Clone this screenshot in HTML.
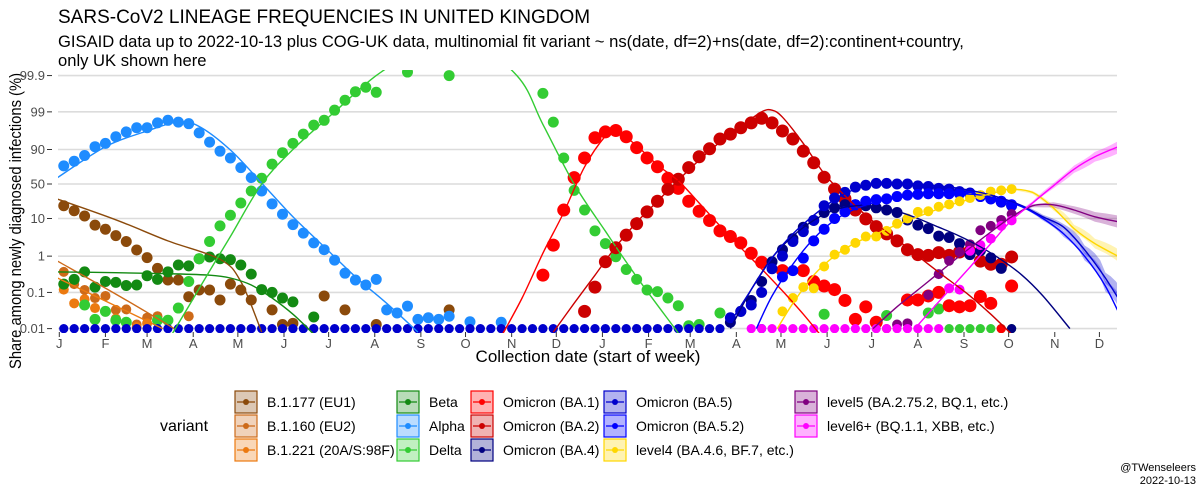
<!DOCTYPE html>
<html><head><meta charset="utf-8"><style>
body{margin:0;background:#fff;}
svg{display:block;font-family:"Liberation Sans",Arial,sans-serif;}
</style></head><body>
<svg id="chart" width="1200" height="500" viewBox="0 0 1200 500" xmlns="http://www.w3.org/2000/svg">
<rect width="1200" height="500" fill="#fff"/>
<text x="58" y="23" font-size="19" fill="#000">SARS-CoV2 LINEAGE FREQUENCIES IN UNITED KINGDOM</text>
<text x="58" y="47" font-size="16.6" fill="#000">GISAID data up to 2022-10-13 plus COG-UK data, multinomial fit variant ~ ns(date, df=2)+ns(date, df=2):continent+country,</text>
<text x="58" y="66" font-size="16.6" fill="#000">only UK shown here</text>
<text transform="translate(21,221) rotate(-90)" text-anchor="middle" font-size="16.5" textLength="296" lengthAdjust="spacingAndGlyphs" fill="#000">Share among newly diagnosed infections (%)</text>
<text x="588" y="362" text-anchor="middle" font-size="17" fill="#000">Collection date (start of week)</text>
<defs><clipPath id="pclip"><rect x="58" y="70" width="1059" height="263"/></clipPath></defs>
<g id="grid"></g><g id="axes"></g>
<g id="plot" clip-path="url(#pclip)"></g>
<g id="legend"></g>
<text x="1196" y="471" text-anchor="end" font-size="11" fill="#000">@TWenseleers</text>
<text x="1196" y="484" text-anchor="end" font-size="11" fill="#000">2022-10-13</text>
</svg>
<script>
const yTicks=[0.01,0.1,1,10,50,90,99,99.9];
const yTickLabels=["0.01","0.1","1","10","50","90","99","99.9"];
const monthLabels=["J","F","M","A","M","J","J","A","S","O","N","D","J","F","M","A","M","J","J","A","S","O","N","D"];
const monthDays=[0,31,59,90,120,151,181,212,243,273,304,334,365,396,424,455,485,516,546,577,608,638,669,699];

const alphaObs=[76,81,86,91.5,93,95.3,96.5,97.3,97.3,98,98.3,98.1,97.9,96.3,93.5,89,84,74,60,39,22,12.7,7,4.2,2.3,1.5,0.78,0.34,0.22,0.16,0.23,0.033,0.027,0.042,0.018,0.02,0.018,0.022,null,0.0155,null,null,0.015];
const alphaFitW=[-0.6,4,8,11,13,16,19,22,25,28,31,34];
const alphaFitV=[60,91.5,96.7,98.1,97.5,89.7,51.5,11,1.8,0.27,0.05,0.008];

const b1177Obs=[20,15.4,11.5,6.8,5.3,3.6,2.5,1.47,0.91,0.46,0.22,0.22,0.076,0.117,0.117,0.062,0.17,0.117,0.062,null,0.033,0.013,0.014,null,null,0.08,null,0.033,null,null,0.013,null,null,null,null,null,null,0.033];
const b1177FitW=[-0.6,5,10,15,17,19];
const b1177FitV=[27.7,9.3,2.6,0.82,0.2,0.008];

const b1160Obs=[0.37,0.17,0.117,0.07,0.08,0.033,0.034,0.013,0.02,0.022,null,null,0.022];
const b1160FitW=[-0.6,5,10.6];
const b1160FitV=[0.73,0.09,0.01];

const b1221Obs=[0.12,0.05,0.065,0.037,null,0.019,null,0.011,0.014];
const b1221FitW=[-0.6,4,9.5];
const b1221FitV=[0.25,0.058,0.01];

const betaObs=[0.17,0.23,0.37,0.14,0.2,0.19,0.155,0.16,0.29,0.23,0.37,0.57,0.54,0.85,0.95,0.85,0.8,0.57,0.32,0.12,0.1,0.07,0.055,null,0.021];
const betaFitW=[-0.6,5,10,14,16,18,20,22,24];
const betaFitV=[0.37,0.35,0.33,0.3,0.25,0.16,0.07,0.025,0.007];

const deltaObs=[0.045,0.018,0.03,0.017,0.015,null,null,0.017,0.017,0.037,0.2,0.85,2.5,6.5,12,23,39,59,78,88,93,96,97.7,98.3,99.1,99.52,99.72,99.79,99.71,null,null,99.92,null,null,null,99.9,null,null,null,null,null,null,null,null,99.69,98.1,84,40,16,4.8,2.2,0.96,0.43,0.23,0.117,0.105,0.07,0.043,0.012,0.013,null,0.027,null,null,null,null,null,null,null,null,null,0.025,null,null,null,null,null,0.023,null,null,null,0.027,0.035,0,0,0,0,0,0,0];
const deltaFitW=[10,12,14,16,19,22,26,30,34,38,43.5,46,49,52,55,59];
const deltaFitV=[0.0045,0.042,0.39,3.4,50,90,99,99.9,99.98,99.993,99.9,97.8,50,4.7,0.27,0.0075];

const ba1Obs=[0.3,2.0,16,60,84,95,96.5,96.8,95.3,91,84,75,59,43,25,15,8.9,4.8,3.4,2.3,1.2,0.68,null,0.4,null,0.4,0.2,0.15,0.12,0.06,0.018,0.04,0.015,0.01,null,0.062,0.062,0.08,0.1,0.043,0.04,0.043,0.077,0.05,0.01,0.15];
const ba1FitW=[42,44,46,48,50,52,53,55,57,59,61,63,65,67,69,71,73];
const ba1FitV=[0.006,0.07,1.2,14,75,95.5,96.8,92,77,55,23,6.5,1.7,0.45,0.11,0.025,0.005];

const ba2Obs=[0.03,0.14,0.7,1.7,3.7,7.4,14.5,25,41.6,57.5,74,85,90.4,94.6,96,97.3,98,98.5,98,96.7,94.6,89,79.5,60.5,42,28,16,9.8,6.2,4,2.6,1.5,1.1,1.05,1.25,1.05,1.3,1.35,0.73,0.6,0.6,0.95];
const ba2FitW=[47,49,51,53,55,57,59,61,63,65,67,68,69,71,73,75,77,79,81,83,85,87,89,91];
const ba2FitV=[0.008,0.05,0.3,1.8,8,25,56,82,93.5,97.5,99,99.1,98.6,93,66,32,12,4.5,1.7,0.6,0.22,0.08,0.025,0.007];

const ba4Obs=[0.015,0.03,0.06,0.2,0.7,1.5,3,6,9,14,18,21,21,20,18,16,14,9.2,6.8,5.5,3.5,3.2,2.2,1.1,1.4,0.9,0.46,0];
const ba4FitW=[64,66,68,70,72,74,76,78,80,82,84,86,88,90,92,94,96.6];
const ba4FitV=[0.01,0.12,0.9,3.5,9,16,20,19,15,10,6,3.5,1.8,0.8,0.3,0.08,0.01];

const ba5Obs=[0,0,0,0,0,0,0,0,0,0,0,0,0,0,0,0,0,0,0,0,0,0,0,0,0,0,0,0,0,0,0,0,0,0,0,0,0,0,0,0,0,0,0,0,0,0,0,0,0,0,0,0,0,0,0,0,0,0,0,0,0,0,0,0.01,0.02,0.03,0.045,0.1,0.45,1,2.5,4.6,9,20,29,37,45,48,51,51,50,50,47,46,43,42,38,36,32,28,24,20];
const ba5FitW=[64,66,68,70,72,74,76,78,80,82,84,86,88,90,92,94,96,98,100,102];
const ba5FitV=[0.015,0.12,0.9,4,12,27,42,50,51,50,47,43,37,29,20,11,6,1.5,0.25,0.03];

const ba52Obs=[0,null,0.27,0.4,0.88,2.6,5.3,10,14.5,21,25,27,28,31,33,34,35,35,35,35,34,31,28,25,21];
const ba52FitW=[66.5,68,70,72,74,76,78,80,82,84,86,88,90,92,94,96,98,100,102];
const ba52FitV=[0.01,0.08,0.6,3,9,17,24,29,33,35,35,33,27,19,10,4,1,0.15,0.01];

const l4Obs=[0.03,0.07,0.14,0.13,0.52,1.1,1.5,2.3,3.4,3.4,4.8,7.4,10,14.5,15,19,21.5,25,29,33,38,40,42];
const l4FitW=[68.5,70,72,74,76,78,80,82,84,86,88,90,91,93,95,97,99,101.5];
const l4FitV=[0.01,0.05,0.3,1,2.3,4,7,11,17,24,31,39,42,37,18,5.5,2.2,0.9];

const l5Obs=[0.013,0.014,null,0.085,0.32,0.75,1.3,2.1,5,6.5,9.2,12.9];
const l5FitW=[77.7,80,83,86,89,91,93,95,97,99,101.5];
const l5FitV=[0.01,0.04,0.2,1.0,4.5,11,20,21,16,11,8];

const l6Obs=[0,0,0,0,0,0,0,0,0,0,0,0,0,0,0,0,0,0,0,0.13,0.12,1.4,2,3,6.5,9];
const l6FitW=[81.7,84,87,89,91,93,95,97,99,101.5];
const l6FitV=[0.01,0.055,0.5,2.2,9,23,47,72,85,92];

const ciWeeks=[91,96,101.5];
const ciHalf=[0.03,0.2,0.4];

const series=[
 {name:"b1177",label:"B.1.177 (EU1)",color:"#8B4A0B",obs:b1177Obs,start:0,fw:b1177FitW,fv:b1177FitV,r:5.5},
 {name:"b1160",label:"B.1.160 (EU2)",color:"#CD6A19",obs:b1160Obs,start:0,fw:b1160FitW,fv:b1160FitV,r:5},
 {name:"b1221",label:"B.1.221 (20A/S:98F)",color:"#EC7A10",obs:b1221Obs,start:0,fw:b1221FitW,fv:b1221FitV,r:5},
 {name:"beta",label:"Beta",color:"#138A13",obs:betaObs,start:0,fw:betaFitW,fv:betaFitV,r:5.5},
 {name:"alpha",label:"Alpha",color:"#1E8CFF",obs:alphaObs,start:0,fw:alphaFitW,fv:alphaFitV,r:5.5},
 {name:"delta",label:"Delta",color:"#33CC33",obs:deltaObs,start:2,fw:deltaFitW,fv:deltaFitV,r:5.5},
 {name:"ba1",label:"Omicron (BA.1)",color:"#FF0000",obs:ba1Obs,start:46,fw:ba1FitW,fv:ba1FitV,r:6.5},
 {name:"ba2",label:"Omicron (BA.2)",color:"#CC0000",obs:ba2Obs,start:50,fw:ba2FitW,fv:ba2FitV,r:6.5},
 {name:"ba4",label:"Omicron (BA.4)",color:"#000080",obs:ba4Obs,start:64,fw:ba4FitW,fv:ba4FitV,r:5.5},
 {name:"ba5",label:"Omicron (BA.5)",color:"#0000CC",obs:ba5Obs,start:0,fw:ba5FitW,fv:ba5FitV,r:5.5,ci:true},
 {name:"ba52",label:"Omicron (BA.5.2)",color:"#0000FF",obs:ba52Obs,start:67,fw:ba52FitW,fv:ba52FitV,r:5.5,ci:true},
 {name:"level4",label:"level4 (BA.4.6, BF.7, etc.)",color:"#FFD700",obs:l4Obs,start:69,fw:l4FitW,fv:l4FitV,r:5,ci:true},
 {name:"level5",label:"level5 (BA.2.75.2, BQ.1, etc.)",color:"#800080",obs:l5Obs,start:80,fw:l5FitW,fv:l5FitV,r:5,ci:true},
 {name:"level6",label:"level6+ (BQ.1.1, XBB, etc.)",color:"#FF00FF",obs:l6Obs,start:66,fw:l6FitW,fv:l6FitV,r:5,ci:true}
];

const NS="http://www.w3.org/2000/svg";
const X0=59.3, PXD=1.488, WEEK0=3;
function xDay(d){return X0+d*PXD;}
function xWeek(w){return xDay(WEEK0+7*w);}
function logit(p){p=Math.min(Math.max(p/100,1e-7),1-1e-7);return Math.log(p/(1-p));}
function yL(L){return 184-15.7*L;}
function yP(p){return yL(logit(Math.max(p,0.01)));}
function mk(tag,attrs,parent){const e=document.createElementNS(NS,tag);for(const k in attrs)e.setAttribute(k,attrs[k]);parent.appendChild(e);return e;}
function interp(ws,vs,w){for(let i=0;i<ws.length-1;i++){if(w>=ws[i]&&w<=ws[i+1]){const t=(w-ws[i])/(ws[i+1]-ws[i]);return vs[i]+t*(vs[i+1]-vs[i]);}}return w<ws[0]?vs[0]:vs[vs.length-1];}
function crPath(pts){let d="M"+pts[0][0].toFixed(1)+","+pts[0][1].toFixed(1);
 for(let i=0;i<pts.length-1;i++){const p0=pts[Math.max(i-1,0)],p1=pts[i],p2=pts[i+1],p3=pts[Math.min(i+2,pts.length-1)];
 const c1=[p1[0]+(p2[0]-p0[0])/6,p1[1]+(p2[1]-p0[1])/6],c2=[p2[0]-(p3[0]-p1[0])/6,p2[1]-(p3[1]-p1[1])/6];
 d+=" C"+c1[0].toFixed(1)+","+c1[1].toFixed(1)+" "+c2[0].toFixed(1)+","+c2[1].toFixed(1)+" "+p2[0].toFixed(1)+","+p2[1].toFixed(1);}return d;}

const grid=document.getElementById("grid"),axes=document.getElementById("axes"),plot=document.getElementById("plot"),legend=document.getElementById("legend");
yTicks.forEach((t,i)=>{const y=yP(t);
 const gl=mk("line",{x1:58,x2:1117,y1:y,y2:y,stroke:"#dcdcdc","stroke-width":1.6},grid);
 
 
 const tk=mk("line",{x1:47,x2:52,y1:y,y2:y,stroke:"#333","stroke-width":1},axes);
 
 
 const tx=mk("text",{x:45,y:y+4.5,"text-anchor":"end","font-size":13,fill:"#4d4d4d"},axes);
 tx.textContent=yTickLabels[i];
 
 });
monthDays.forEach((d,i)=>{const x=xDay(d);
 const tk=mk("line",{x1:x,x2:x,y1:332,y2:337,stroke:"#333","stroke-width":1},axes);
 
 
 const tx=mk("text",{x:x,y:348,"text-anchor":"middle","font-size":13,fill:"#4d4d4d"},axes);
 tx.textContent=monthLabels[i];
 
 });

series.forEach(s=>{if(!s.ci)return;
 const up=[],lo=[];
 for(let w=ciWeeks[0];w<=ciWeeks[ciWeeks.length-1];w+=0.5){const L=logit(interp(s.fw,s.fv,w));const h=interp(ciWeeks,ciHalf,w);up.push([xWeek(w),yL(L+h)]);lo.push([xWeek(w),yL(L-h)]);}
 const pts=up.concat(lo.reverse());
 const rb=mk("polygon",{points:pts.map(p=>p[0].toFixed(1)+","+p[1].toFixed(1)).join(" "),fill:s.color,"fill-opacity":0.3,stroke:"none"},plot);
 
 });
series.forEach(s=>{s.obs.forEach((v,i)=>{if(v===null)return;
 const zero=v<=0.01;
 const c=mk("circle",{cx:xWeek(s.start+i),cy:yP(v),r:zero?4.6:s.r,fill:s.color},plot);
 
 });});
series.forEach(s=>{const pts=s.fw.map((w,i)=>[xWeek(w),yL(logit(s.fv[i]))]);
 const p=mk("path",{d:crPath(pts),fill:"none",stroke:s.color,"stroke-width":1.4},plot);
 
 });

const vt=mk("text",{x:160,y:431,"font-size":16,fill:"#000"},legend);
vt.textContent="variant";


const colX=[235,397,471,604,795],rowY=[391,415,439];
series.forEach((s,i)=>{const col=Math.floor(i/3),row=i%3;const x=colX[col],y=rowY[row];
 const g=mk("g",{},legend);
 
 
 mk("rect",{x:x,y:y,width:22,height:22,fill:s.color,"fill-opacity":0.3,stroke:s.color,"stroke-width":1.2},g);
 mk("line",{x1:x+2,x2:x+20,y1:y+11,y2:y+11,stroke:s.color,"stroke-width":1.2},g);
 mk("circle",{cx:x+11,cy:y+11,r:3,fill:s.color},g);
 const t=mk("text",{x:x+32,y:y+16,"font-size":14,fill:"#000"},g);
 t.textContent=s.label;});
</script>
</body></html>
